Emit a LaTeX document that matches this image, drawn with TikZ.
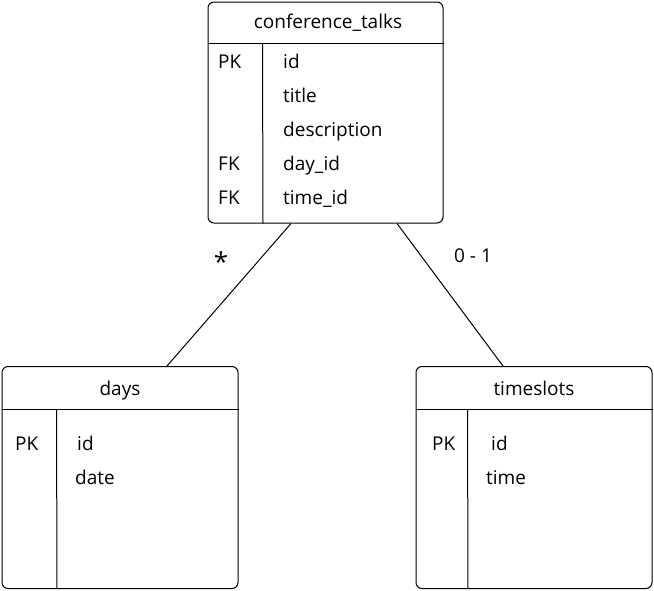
\documentclass[tikz,border=0pt]{standalone}
\usepackage{fontspec}
\setmainfont{Open Sans}
\usetikzlibrary{calc}
\tikzset{
  tbl/.style={draw, rectangle, rounded corners=6pt, line width=1pt, inner sep=0pt},
  sep/.style={line width=1pt},
  txt/.style={inner sep=0pt, font=\fontsize{19}{22}\selectfont},
  fld/.style={txt, anchor=base west},
  ttl/.style={txt, anchor=base},
  conn/.style={line width=1pt}
}
\begin{document}
\begin{tikzpicture}[x=1pt,y=-1pt]
\useasboundingbox (0,0) rectangle (654,590);
% tables
\node[tbl, minimum width=235pt, minimum height=221pt] (ct) at (325.5,112.5) {};
\node[tbl, minimum width=236pt, minimum height=222pt] (days) at (120,477.5) {};
\node[tbl, minimum width=236pt, minimum height=222pt] (ts) at (534,477.5) {};
% header lines and dividers
\draw[sep] ($(ct.north west)+(0,42)$) -- ($(ct.north east)+(0,42)$);
\draw[sep] ($(ct.north west)+(55,42)$) -- (ct.south west -| 263,0);
\draw[sep] ($(days.north west)+(0,43)$) -- ($(days.north east)+(0,43)$);
\draw[sep] ($(days.north west)+(55,43)$) -- (days.south west -| 57,0);
\draw[sep] ($(ts.north west)+(0,43)$) -- ($(ts.north east)+(0,43)$);
\draw[sep] ($(ts.north west)+(52,43)$) -- (ts.south west -| 468,0);
% titles
\node[ttl] (ctt) at (328,28) {conference\_talks};
\node[ttl] (dt) at (120,395) {days};
\node[ttl] (tst) at (534,395) {timeslots};
% conference_talks rows
\node[fld] (k1) at (218,68) {PK};
\node[fld] (f1) at (283,68) {id};
\node[fld] (f2) at (283,102) {title};
\node[fld] (f3) at (283,136) {description};
\node[fld] (k4) at (218,170) {FK};
\node[fld] (f4) at (283,170) {day\_id};
\node[fld] (k5) at (218,204) {FK};
\node[fld] (f5) at (283,204) {time\_id};
% days rows
\node[fld] (dk1) at (15,450) {PK};
\node[fld] (df1) at (77,450) {id};
\node[fld] (df2) at (75,484) {date};
% timeslots rows
\node[fld] (tk1) at (432,450) {PK};
\node[fld] (tf1) at (491,450) {id};
\node[fld] (tf2) at (486,484) {time};
% connectors
\coordinate (a1) at (ct.south west -| 291,0);
\coordinate (a2) at (days.north west -| 167,0);
\coordinate (b1) at (ct.south west -| 397,0);
\coordinate (b2) at (ts.north west -| 503,0);
\draw[conn] (a1) -- (a2);
\draw[conn] (b1) -- (b2);
\node[inner sep=0pt, anchor=center, font=\fontsize{26}{26}\selectfont] (m1) at (221,262) {*};
\node[fld] (m2) at (454,262) {0 - 1};
\end{tikzpicture}
\end{document}
